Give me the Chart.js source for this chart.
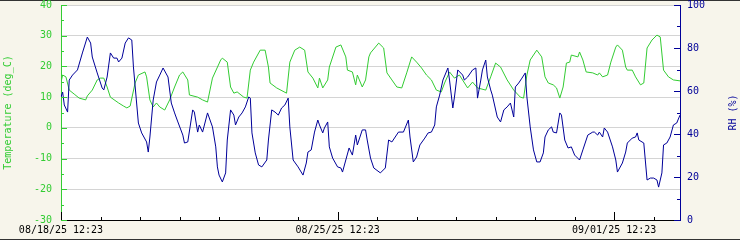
<!DOCTYPE html>
<html>
<head>
<meta charset="utf-8">
<script src="https://cdn.jsdelivr.net/npm/chart.js@4.4.1/dist/chart.umd.min.js"></script>
<style>
html,body{margin:0;padding:0;background:#f7f5eb;}
canvas{display:block;}
</style>
</head>
<body>
<canvas id="myChart" width="740" height="240"></canvas>
<script>
// hours since 08/18/25 12:23
const tempHours = [0,1,3,5,8,11,15,16,19,22,24,26,28,30,35,38,40,42,45,47,51,52,54,56,58,60,63,66,69,72,74,77,78,83,86,89,92,97,98,101,103,105,107,111,113,115,117,121,124,126,127,131,137,139,142,145,148,150,153,156,157,159,162,163,167,170,173,174,177,179,180,183,185,187,188,193,196,198,201,204,207,210,213,216,219,222,225,228,231,233,236,239,242,247,250,253,258,261,264,267,271,275,279,281,283,285,289,292,294,296,299,301,303,305,307,309,310,314,315,317,319,323,326,327,329,332,334,337,338,341,343,344,347,349,352,354,356,359,362,364,366,369,372,376];
const tempValues = [14.9,17.2,16.6,12.3,11.0,9.7,9.1,10.4,12.3,15.6,16.2,16.2,13.3,10.0,8.1,7.1,6.5,7.1,14.6,17.2,18.2,16.6,9.1,6.8,8.1,6.8,5.8,9.1,13.3,17.2,18.2,15.6,10.7,10.0,9.1,8.4,16.2,22.1,22.7,21.4,13.3,11.3,11.7,10.0,9.7,18.8,21.4,25.3,25.3,19.8,14.6,13.0,11.3,21.4,25.3,26.3,25.3,18.2,16.2,13.0,16.2,13.0,15.6,19.8,26.3,27.0,23.1,18.8,18.2,14.0,17.2,13.3,15.6,23.1,24.4,27.6,26.0,17.9,15.6,13.3,13.0,17.9,23.1,21.4,19.5,17.2,15.6,12.3,11.7,14.6,18.2,16.2,17.2,13.0,14.9,13.0,12.3,16.6,21.1,19.8,15.6,12.3,10.0,9.7,17.2,22.1,25.3,23.1,16.6,14.6,14.0,13.0,9.7,13.3,21.1,21.4,23.7,23.1,24.7,22.1,18.2,17.9,17.2,17.9,16.6,17.2,21.4,26.3,27.0,25.3,19.8,18.8,18.8,16.6,14.0,14.6,26.0,28.6,30.2,29.6,18.8,16.6,15.6,15.3];
const rhHours = [0,1,2,4,5,7,10,13,16,18,19,22,25,26,28,30,32,34,35,37,39,41,43,44,47,49,52,53,54,56,58,60,62,65,67,69,71,74,75,77,80,81,83,84,86,89,92,94,95,96,98,100,101,103,105,106,108,110,112,114,115,116,118,120,122,125,126,128,130,132,134,136,138,139,141,144,147,149,150,152,154,156,157,159,160,162,163,165,168,170,171,173,175,177,179,180,183,185,186,188,190,194,197,199,201,203,205,208,211,212,214,216,218,221,223,225,227,228,230,232,235,236,238,239,241,244,245,247,250,252,253,255,256,258,259,261,262,265,267,269,271,273,275,276,278,280,282,283,285,287,289,291,293,294,296,298,299,301,303,304,306,308,310,312,315,317,320,323,324,326,327,329,330,332,335,337,338,341,343,344,347,349,350,351,354,356,358,360,362,363,365,366,368,370,372,374,376];
const rhValues = [57.2,59.5,53.5,50.2,65.1,67.4,69.8,77.7,85.1,82.3,75.8,68.4,61.4,60.5,66.5,77.7,75.3,75.3,73.5,75.3,82.3,84.7,83.7,71.2,45.1,40.5,36.3,31.6,38.6,55.8,64.2,67.4,70.7,66.5,54.4,49.8,45.6,39.5,35.8,36.3,51.2,50.2,40.9,44.2,40.9,49.8,43.3,34.0,24.7,20.9,17.7,21.9,37.2,51.2,48.8,44.2,47.9,49.8,52.6,57.2,56.7,40.5,31.2,25.6,24.7,27.9,37.2,51.2,50.2,48.8,52.1,53.5,56.7,43.3,27.9,24.7,20.9,26.5,31.6,32.6,40.9,46.5,44.2,40.5,42.8,45.6,34.0,28.8,24.7,24.2,22.3,27.9,33.5,30.2,39.5,34.9,41.9,41.9,37.2,28.8,24.2,21.9,24.2,37.2,36.3,38.6,40.9,40.9,46.5,38.6,27.0,29.3,34.9,38.1,40.5,40.9,44.2,52.6,58.1,65.1,70.7,65.1,52.1,57.2,69.8,67.4,65.1,66.5,69.8,70.7,56.7,65.1,69.8,74.4,66.5,60.5,58.1,47.9,45.6,51.2,52.6,54.4,47.9,61.9,63.7,66.0,68.4,57.2,43.3,32.6,27.0,27.0,31.2,38.6,41.9,43.3,40.9,40.5,49.8,48.8,37.2,33.5,34.0,30.2,27.9,32.6,39.5,40.9,40.9,39.5,40.9,38.6,42.8,40.9,34.0,27.9,22.3,26.5,31.6,35.8,38.1,38.6,40.5,37.2,35.8,18.6,19.5,19.5,18.6,15.3,21.9,34.9,35.8,38.6,44.2,45.1,48.8];
const weekLabels = ['08/18/25 12:23', '08/25/25 12:23', '09/01/25 12:23'];
const leftTitle = 'Temperature (deg_C)';
const rightTitle = 'RH (%)';

const green = '#33cc33';
const blue = '#000099';
const FONT = 'DejaVu Sans Mono';

Chart.defaults.font.family = FONT;
Chart.defaults.font.size = 10;

// background, frame, inward tick marks and rotated axis titles
const decor = {
  id: 'decor',
  beforeDraw(chart) {
    const c = chart.ctx, a = chart.chartArea;
    c.save();
    c.fillStyle = '#f7f5eb';
    c.fillRect(0, 0, chart.width, chart.height);
    c.fillStyle = '#ffffff';
    c.fillRect(a.left, a.top, a.right - a.left, a.bottom - a.top);
    c.fillStyle = '#333333';
    c.fillRect(0, 0, chart.width, 1);
    c.fillRect(0, chart.height - 1, chart.width, 1);
    c.restore();
  },
  afterDraw(chart) {
    const c = chart.ctx, a = chart.chartArea;
    const sx = chart.scales.x, st = chart.scales.yT, sr = chart.scales.yRH;
    c.save();
    c.lineWidth = 1;
    c.strokeStyle = '#000000';
    sx.ticks.forEach(t => {
      const px = Math.round(sx.getPixelForValue(t.value)) + 0.5;
      const len = t.value % 168 === 0 ? 8 : 3;
      c.beginPath(); c.moveTo(px, a.bottom); c.lineTo(px, a.bottom - len); c.stroke();
    });
    c.strokeStyle = green;
    st.ticks.forEach(t => {
      const py = Math.round(st.getPixelForValue(t.value)) + 0.5;
      const len = t.value % 10 === 0 ? 6 : 3;
      c.beginPath(); c.moveTo(a.left, py); c.lineTo(a.left + len, py); c.stroke();
    });
    c.strokeStyle = blue;
    sr.ticks.forEach(t => {
      const py = Math.round(sr.getPixelForValue(t.value)) + 0.5;
      const len = t.value % 20 === 0 ? 6 : 3;
      c.beginPath(); c.moveTo(a.right, py); c.lineTo(a.right - len, py); c.stroke();
    });
    c.font = '10px ' + FONT;
    c.textAlign = 'center';
    c.textBaseline = 'middle';
    const my = (a.top + a.bottom) / 2;
    c.fillStyle = green;
    c.translate(8, my); c.rotate(-Math.PI / 2); c.fillText(leftTitle, 0, 0);
    c.setTransform(1, 0, 0, 1, 0, 0);
    c.fillStyle = blue;
    c.translate(733, my); c.rotate(-Math.PI / 2); c.fillText(rightTitle, 0, 0);
    c.restore();
  }
};

const config = {
  type: 'line',
  data: {
    datasets: [
      {
        label: 'RH',
        data: rhHours.map((h, i) => ({x: h, y: rhValues[i]})),
        yAxisID: 'yRH',
        borderColor: blue,
        borderWidth: 1,
        pointRadius: 0,
        tension: 0,
        fill: false,
        order: 0
      },
      {
        label: 'Temperature',
        data: tempHours.map((h, i) => ({x: h, y: tempValues[i]})),
        yAxisID: 'yT',
        borderColor: green,
        borderWidth: 1,
        pointRadius: 0,
        tension: 0,
        fill: false,
        order: 1
      }
    ]
  },
  options: {
    responsive: false,
    animation: false,
    devicePixelRatio: 1,
    layout: {padding: {top: 5, left: 0, right: 0, bottom: 0}},
    plugins: {legend: {display: false}, tooltip: {enabled: false}},
    scales: {
      x: {
        type: 'linear',
        min: 0,
        max: 376,
        afterFit(s) { s.height = 20; s.paddingLeft = 0; s.paddingRight = 0; },
        afterBuildTicks(s) {
          const t = [];
          for (let v = 0; v <= 376; v += 24) t.push({value: v});
          s.ticks = t;
        },
        ticks: {
          autoSkip: false,
          maxRotation: 0,
          padding: 5,
          color: '#000000',
          font: {size: 10, lineHeight: 1},
          callback: v => (v % 168 === 0 ? weekLabels[v / 168] : '')
        },
        grid: {drawOnChartArea: false, drawTicks: false},
        border: {color: '#000000', width: 1}
      },
      yT: {
        type: 'linear',
        position: 'left',
        min: -30,
        max: 40,
        afterFit(s) { s.width = 61; s.paddingTop = 0; s.paddingBottom = 0; },
        ticks: {
          stepSize: 5,
          padding: 9,
          color: green,
          font: {size: 10, lineHeight: 1},
          callback: v => (v % 10 === 0 ? v : '')
        },
        grid: {
          drawTicks: false,
          color: ctx => (ctx.tick.value % 10 === 0 && ctx.tick.value > -30 ? '#d4d4d4' : 'rgba(0,0,0,0)')
        },
        border: {color: green, width: 1}
      },
      yRH: {
        type: 'linear',
        position: 'right',
        min: 0,
        max: 100,
        afterFit(s) { s.width = 60; s.paddingTop = 0; s.paddingBottom = 0; },
        ticks: {
          stepSize: 10,
          padding: 7,
          color: blue,
          font: {size: 10, lineHeight: 1},
          callback: v => (v % 20 === 0 ? v : '')
        },
        grid: {drawOnChartArea: false, drawTicks: false},
        border: {color: blue, width: 1}
      }
    }
  },
  plugins: [decor]
};

const ctx = document.getElementById('myChart').getContext('2d');
const myChart = new Chart(ctx, config);
</script>
</body>
</html>
